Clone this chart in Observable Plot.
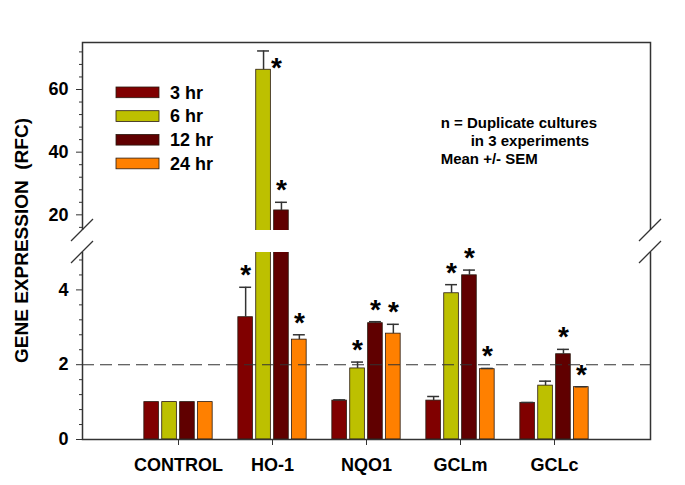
<!DOCTYPE html>
<html><head><meta charset="utf-8">
<script src="https://cdn.jsdelivr.net/npm/d3@7"></script>
<script src="https://cdn.jsdelivr.net/npm/@observablehq/plot@0.6"></script>
<style>
body{margin:0;background:#fff;}
#chart{width:685px;height:485px;}
svg text{font-family:"Liberation Sans",Arial,Helvetica,sans-serif;}
</style>
</head><body><div id="chart"></div>
<script>
// ---- data ----
const genes = ["CONTROL", "HO-1", "NQO1", "GCLm", "GCLc"];
const times = ["3 hr", "6 hr", "12 hr", "24 hr"];
const colors = ["#800000", "#BDC000", "#600000", "#FF8000"];
const mean3  = [1.00, 3.27, 1.04, 1.04, 0.98];
const mean6  = [1.00, 66.3, 1.90, 3.91, 1.44];
const mean12 = [1.00, 21.4, 3.11, 4.39, 2.28];
const mean24 = [1.00, 2.67, 2.83, 1.88, 1.40];
const sem3  = [0, 0.80, 0.02, 0.11, 0.01];
const sem6  = [0, 6.0, 0.17, 0.23, 0.12];
const sem12 = [0, 2.6, 0.04, 0.14, 0.13];
const sem24 = [0, 0.13, 0.25, 0.02, 0.01];
const star3  = [0, 1, 0, 0, 0];
const star6  = [0, 1, 1, 1, 0];
const star12 = [0, 1, 1, 1, 1];
const star24 = [0, 1, 1, 1, 1];
const majorTicks = [0, 2, 4, 20, 40, 60];
const minorTicks = [0.4, 0.8, 1.2, 1.6, 2.4, 2.8, 3.2, 3.6, 4.4, 4.8,
                    16, 24, 28, 32, 36, 44, 48, 52, 56, 64, 68, 72];
const refLine = [2];
const yLabel = "GENE EXPRESSION  (RFC)";
const note = ["n = Duplicate cultures", "in 3 experiments", "Mean +/- SEM"];
const breakLo = 5, breakHi = 15, yMax = 75;

// ---- layout ----
const W = 685, H = 485, mL = 82, mR = 35, mT = 42, mB = 46;
const yBottom = H - mB, yLoTop = 252, yHiBottom = 230;
const step = (W - mL - mR) / (genes.length + 1);
const barW = 15.3, pitch = 17.9, capW = 12.6;
const off = si => (si - (times.length - 1) / 2) * pitch;
const inL = si => step / 2 + off(si) - barW / 2;
const inR = si => step - inL(si) - barW;

const means = [mean3, mean6, mean12, mean24];
const sems = [sem3, sem6, sem12, sem24];
const stars = [star3, star6, star12, star24];
const rows = [];
times.forEach((t, si) => genes.forEach((g, gi) => rows.push({
  gene: g, time: t, si, mean: means[si][gi], sem: sems[si][gi], star: stars[si][gi],
  top: means[si][gi] + sems[si][gi]
})));

const ink = "#333";
const marks = [];
times.forEach((t, si) => {
  const sub = rows.filter(d => d.si === si);
  marks.push(Plot.barY(sub, {x: "gene", y: "mean", fill: colors[si], stroke: "#2a1a10", strokeWidth: 0.8,
    insetLeft: inL(si), insetRight: inR(si)}));
});
times.forEach((t, si) => {
  const sub = rows.filter(d => d.si === si && d.sem > 0);
  marks.push(Plot.ruleX(sub, {x: "gene", y1: "mean", y2: "top", dx: off(si), stroke: ink, strokeWidth: 1.5}));
  marks.push(Plot.tickY(sub, {x: "gene", y: "top", stroke: ink, strokeWidth: 1.5,
    insetLeft: step / 2 + off(si) - capW / 2, insetRight: step / 2 - off(si) - capW / 2}));
});
marks.push(Plot.frame({stroke: ink, strokeWidth: 1.5}));
marks.push(Plot.rect([{lo: breakLo, hi: breakHi}], {y1: "lo", y2: "hi", fill: "white", insetLeft: -5, insetRight: -5}));
marks.push(Plot.ruleY(refLine, {stroke: ink, strokeWidth: 1.1, strokeDasharray: "12,6"}));
times.forEach((t, si) => {
  const sub = rows.filter(d => d.si === si && d.star);
  marks.push(Plot.text(sub.filter(d => d.top <= 70), {x: "gene", y: "top", dx: off(si), dy: -12,
    text: () => "*", fontSize: 28, fontWeight: "bold", fill: "black"}));
  marks.push(Plot.text(sub.filter(d => d.top > 70), {x: "gene", y: "mean", dx: off(si) + 13, dy: -2,
    text: () => "*", fontSize: 28, fontWeight: "bold", fill: "black"}));
});
marks.push(Plot.axisY({ticks: majorTicks, tickSize: 6, tickPadding: 8, fontSize: 18, fontWeight: "bold", label: null, stroke: ink}));
marks.push(Plot.axisY({ticks: minorTicks, tickSize: 3, tickFormat: () => "", label: null, stroke: ink}));
marks.push(Plot.axisX({tickSize: 6, tickPadding: 13, fontSize: 18, fontWeight: "bold", label: null, stroke: ink}));

const plot = Plot.plot({
  width: W, height: H,
  marginLeft: mL, marginRight: mR, marginTop: mT, marginBottom: mB,
  style: {background: "white", color: "black", fontFamily: "'Liberation Sans', Arial, sans-serif"},
  x: {type: "band", domain: genes, paddingInner: 0, paddingOuter: 0.5, align: 0.5},
  y: {type: "linear", domain: [0, breakLo, breakHi, yMax], range: [yBottom, yLoTop, yHiBottom, mT], nice: false, clamp: false},
  marks
});
document.getElementById("chart").appendChild(plot);

// ---- decorations: break marks, y label, legend, note ----
const svg = d3.select(plot);
const ys = plot.scale("y");
[mL, W - mR].forEach(x => [breakHi, breakLo].forEach(v => {
  const y = ys.apply(v);
  svg.append("line").attr("x1", x - 11).attr("y1", y + 11).attr("x2", x + 11).attr("y2", y - 11)
    .attr("stroke", ink).attr("stroke-width", 1.3);
}));
svg.append("text").attr("transform", `translate(23,${(mT + yBottom) / 2}) rotate(-90)`)
  .attr("text-anchor", "middle").attr("dominant-baseline", "middle")
  .attr("font-size", 19).attr("font-weight", "bold").style("white-space", "pre").text(yLabel);
times.forEach((t, si) => {
  const y0 = 87 + si * 23.7;
  svg.append("rect").attr("x", 116).attr("y", y0).attr("width", 43).attr("height", 10.7)
    .attr("fill", colors[si]).attr("stroke", "#2a1a10").attr("stroke-width", 0.8);
  svg.append("text").attr("x", 170).attr("y", y0 + 11.5).attr("text-anchor", "start")
    .attr("font-size", 18).attr("font-weight", "bold").text(t);
});
const noteX = [440.7, 470.7, 440.7], noteY = [128, 146, 164.3];
note.forEach((s, i) => svg.append("text").attr("x", noteX[i]).attr("y", noteY[i]).attr("text-anchor", "start")
  .attr("font-size", 15).attr("font-weight", "bold").text(s));
</script>
</body></html>
